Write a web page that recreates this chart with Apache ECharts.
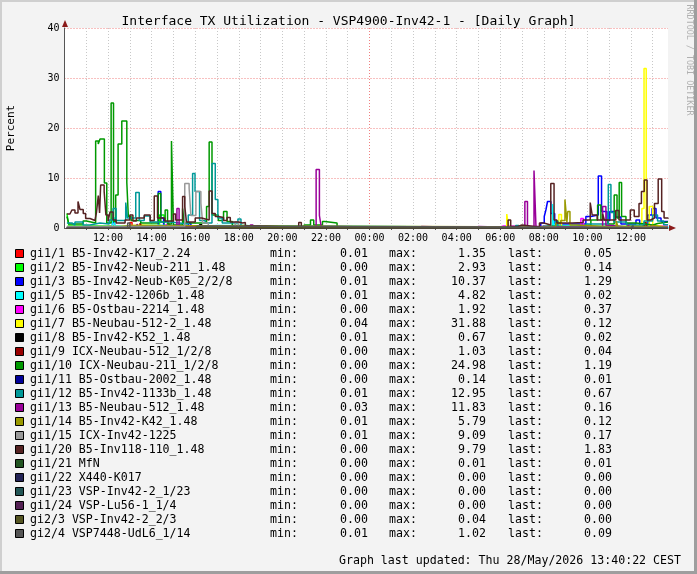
<!DOCTYPE html>
<html>
<head>
<meta charset="utf-8">
<script src="https://cdn.jsdelivr.net/npm/echarts@6/dist/echarts.min.js"></script>
<style>
html,body{margin:0;padding:0;background:#f3f3f3;}
#chart{width:697px;height:574px;}
</style>
</head>
<body>
<div id="chart"></div>
<script>
// time axis in hours, counted from 00:00 of the first day (24 = midnight)
var X_MIN = 10, X_MAX = 37.7;
var gridHours = [10,11,12,13,14,15,16,17,18,19,20,21,22,23,24,25,26,27,28,29,30,31,32,33,34,35,36,37];

// change points [hour, percent] per interface
var gi1_1 = [[10.11,0.1],[11.9,0.4],[12.0,0.1],[13.0,1.1],[13.1,0.2],[14.76,1.35],[14.85,0.1],[37.5,0.05],[37.7,0.05]];
var gi1_2 = [[10.11,2.9],[10.2,0.5],[10.5,0.2],[14.36,2.6],[14.57,0.3],[15.0,0.1],[37.7,0.14]];
var gi1_3 = [[10.11,0.2],[12.2,1.1],[12.3,0.3],[14.3,7.3],[14.42,2.0],[14.55,0.5],[15.7,1.0],[15.8,0.2],[18.0,0.05],[31.86,1.0],[32.02,2.3],[32.1,3.7],[32.17,5.3],[32.32,2.9],[32.5,0.8],[33.93,2.3],[34.16,2.6],[34.5,10.4],[34.65,3.3],[34.9,1.5],[35.03,3.3],[35.25,2.2],[35.54,0.8],[36.23,1.6],[36.4,0.5],[36.78,2.6],[36.97,3.9],[37.15,2.0],[37.38,1.3],[37.7,1.29]];
var gi1_5 = [[10.11,0.3],[12.2,2.0],[12.3,0.4],[13.0,0.6],[14.0,0.3],[16.0,0.5],[17.0,0.1],[32.4,4.8],[32.47,0.5],[33.0,0.2],[37.7,0.02]];
var gi1_6 = [[10.11,0.1],[14.67,0.8],[14.75,0.1],[29.93,0.4],[30.15,0.1],[33.7,1.9],[33.82,0.2],[36.8,0.5],[36.9,0.37],[37.7,0.37]];
var gi1_7 = [[10.11,0.3],[12.5,0.6],[13.5,0.4],[15.0,0.3],[18.0,0.1],[30.3,2.8],[30.39,0.2],[32.69,2.7],[32.81,0.3],[35.54,0.5],[36.5,3.9],[36.6,31.9],[36.7,0.3],[36.84,4.3],[37.0,0.5],[37.2,0.12],[37.7,0.12]];
var gi1_8 = [[10.11,0.05],[16.2,0.67],[16.3,0.05],[37.7,0.02]];
var gi1_9 = [[10.11,0.05],[13.47,1.0],[13.55,0.1],[36.6,1.03],[36.7,0.05],[37.7,0.04]];
var gi1_10 = [[10.11,2.3],[10.2,0.8],[10.85,1.4],[11.0,1.0],[11.43,17.4],[11.55,16.8],[11.63,17.8],[11.83,9.0],[11.94,1.0],[12.14,25.0],[12.25,1.3],[12.35,6.6],[12.46,16.8],[12.63,21.4],[12.86,9.1],[12.93,2.3],[13.06,1.5],[13.5,1.0],[14.3,6.9],[14.42,1.2],[14.62,3.6],[14.73,0.8],[14.91,17.4],[15.0,0.6],[15.42,3.9],[15.49,1.0],[16.52,4.3],[16.64,17.2],[16.77,2.6],[17.06,1.5],[17.3,3.3],[17.46,1.3],[17.7,0.5],[18.3,0.2],[19.07,0.4],[19.22,0.1],[21.0,0.6],[21.29,1.6],[21.44,0.6],[21.84,1.3],[21.95,1.0],[22.51,0.1],[23.0,0.05],[31.86,0.4],[32.2,0.2],[33.38,0.6],[34.16,1.6],[34.47,4.6],[34.62,1.6],[34.94,0.8],[35.23,6.6],[35.36,2.0],[35.46,9.1],[35.57,2.3],[35.77,1.0],[36.23,0.6],[37.01,0.9],[37.22,1.2],[37.7,1.19]];
var gi1_11 = [[10.11,0.05],[12.5,0.14],[12.6,0.02],[37.7,0.01]];
var gi1_12 = [[10.11,1.0],[10.34,0.6],[10.48,1.2],[10.85,0.6],[11.17,1.0],[11.63,0.8],[12.05,1.6],[12.23,3.9],[12.37,1.5],[12.81,5.1],[12.89,2.0],[13.27,7.1],[13.43,1.5],[13.66,2.4],[13.93,1.2],[14.85,0.8],[15.68,2.6],[15.88,10.9],[15.99,7.3],[16.2,1.5],[16.46,1.0],[16.77,12.9],[16.92,5.7],[17.04,2.0],[17.24,1.0],[17.96,1.8],[18.1,0.3],[18.9,0.05],[30.71,0.5],[30.85,0.05],[31.86,0.4],[32.0,0.1],[32.55,1.4],[32.65,0.3],[33.93,0.8],[34.96,8.7],[35.08,3.1],[35.22,1.2],[35.8,0.6],[36.6,1.4],[36.99,2.6],[37.22,1.4],[37.5,0.67],[37.7,0.67]];
var gi1_13 = [[10.11,0.1],[13.33,0.8],[13.4,0.1],[15.16,3.9],[15.26,0.3],[15.5,0.1],[18.53,0.6],[18.65,0.1],[21.55,11.7],[21.7,2.5],[21.78,0.3],[22.3,0.1],[26.3,0.3],[26.4,0.05],[28.9,0.3],[29.0,0.05],[31.13,5.3],[31.25,0.2],[31.55,11.5],[31.64,0.3],[32.0,0.1],[34.7,4.3],[34.85,0.5],[35.1,0.2],[35.8,0.6],[35.9,0.16],[37.7,0.16]];
var gi1_14 = [[10.11,0.2],[12.5,0.5],[13.0,0.2],[32.55,1.0],[32.78,1.5],[32.97,5.7],[33.06,1.2],[33.1,3.3],[33.2,0.6],[33.5,0.2],[35.32,1.4],[35.4,0.3],[36.9,0.5],[37.0,0.12],[37.7,0.12]];
var gi1_15 = [[10.11,0.3],[15.52,8.9],[15.72,8.0],[15.8,2.5],[16.03,7.3],[16.26,5.0],[16.34,1.0],[16.6,0.3],[17.84,1.2],[17.98,0.2],[18.5,0.1],[37.7,0.17]];
var gi1_20 = [[10.11,2.8],[10.25,3.1],[10.34,3.6],[10.48,3.0],[10.62,5.3],[10.71,3.7],[10.86,2.9],[10.97,1.9],[11.17,1.5],[11.4,1.6],[11.47,3.2],[11.55,6.5],[11.61,3.0],[11.66,8.6],[11.82,7.3],[11.9,2.6],[12.0,1.4],[12.09,3.2],[12.23,1.6],[12.37,1.0],[12.78,1.6],[13.0,2.6],[13.14,1.4],[13.3,2.0],[13.66,2.6],[13.93,1.5],[14.12,6.4],[14.27,2.0],[14.6,1.4],[15.0,2.8],[15.1,1.6],[15.42,6.3],[15.52,4.3],[15.6,1.2],[16.0,2.0],[16.3,1.6],[16.64,7.4],[16.77,2.9],[16.92,2.3],[17.06,2.1],[17.3,1.5],[17.46,2.1],[17.61,1.2],[18.0,1.0],[18.17,1.1],[18.3,0.4],[18.9,0.1],[20.75,1.1],[20.87,0.2],[21.3,0.1],[30.36,1.6],[30.48,0.3],[30.8,0.6],[31.0,0.2],[31.8,1.0],[32.0,0.6],[32.32,8.9],[32.47,1.6],[32.6,1.0],[33.3,1.1],[33.8,1.6],[34.13,5.1],[34.22,2.6],[34.45,1.6],[34.7,2.8],[34.78,1.6],[35.3,3.5],[35.45,1.6],[35.97,3.6],[36.15,2.3],[36.37,4.9],[36.48,7.3],[36.61,9.6],[36.74,1.6],[36.9,2.0],[37.08,4.9],[37.25,9.8],[37.41,3.3],[37.52,2.0],[37.7,1.83]];
var gi1_21 = [[10.11,0.01],[37.7,0.01]];
var gi1_22 = [[10.11,0],[37.7,0]];
var gi1_23 = [[10.11,0],[37.7,0]];
var gi1_24 = [[10.11,0],[37.7,0]];
var gi2_3 = [[10.11,0],[14.0,0.04],[14.1,0],[37.7,0]];
var gi2_4 = [[10.11,0.1],[12.9,1.02],[13.0,0.1],[16.0,0.4],[16.1,0.1],[36.0,0.5],[36.1,0.09],[37.7,0.09]];

var names = ['gi1/1 B5-Inv42-K17_2.24','gi1/2 B5-Inv42-Neub-211_1.48','gi1/3 B5-Inv42-Neub-K05_2/2/8','gi1/5 B5-Inv42-1206b_1.48','gi1/6 B5-Ostbau-2214_1.48','gi1/7 B5-Neubau-512-2_1.48','gi1/8 B5-Inv42-K52_1.48','gi1/9 ICX-Neubau-512_1/2/8','gi1/10 ICX-Neubau-211_1/2/8','gi1/11 B5-Ostbau-2002_1.48','gi1/12 B5-Inv42-1133b_1.48','gi1/13 B5-Neubau-512_1.48','gi1/14 B5-Inv42-K42_1.48','gi1/15 ICX-Inv42-1225','gi1/20 B5-Inv118-110_1.48','gi1/21 MfN','gi1/22 X440-K017','gi1/23 VSP-Inv42-2_1/23','gi1/24 VSP-Lu56-1_1/4','gi2/3 VSP-Inv42-2_2/3','gi2/4 VSP7448-UdL6_1/14'];
var mins = [0.01,0.00,0.01,0.01,0.00,0.04,0.01,0.00,0.00,0.00,0.01,0.03,0.01,0.01,0.00,0.00,0.00,0.00,0.00,0.00,0.01];
var maxs = [1.35,2.93,10.37,4.82,1.92,31.88,0.67,1.03,24.98,0.14,12.95,11.83,5.79,9.09,9.79,0.01,0.00,0.00,0.00,0.04,1.02];
var lasts = [0.05,0.14,1.29,0.02,0.37,0.12,0.02,0.04,1.19,0.01,0.67,0.16,0.12,0.17,1.83,0.01,0.00,0.00,0.00,0.00,0.09];
var colors = ['#FF0000','#00FF00','#0000FF','#00FFFF','#FF00FF','#FFFF00','#000000','#990000','#009900','#000099','#009999','#990099','#999900','#999999','#552222','#225522','#222255','#225555','#552255','#555522','#555555'];
var lines = [gi1_1,gi1_2,gi1_3,gi1_5,gi1_6,gi1_7,gi1_8,gi1_9,gi1_10,gi1_11,gi1_12,gi1_13,gi1_14,gi1_15,gi1_20,gi1_21,gi1_22,gi1_23,gi1_24,gi2_3,gi2_4];

var MONO = 'DejaVu Sans Mono';

function pad2(n){ return (n < 10 ? '0' : '') + n; }

// split line colours in tick order: hidden at the axis itself, red at midnight
var vColors = gridHours.map(function(h){
	if(h === X_MIN) return 'rgba(0,0,0,0)';
	return h === 24 ? '#F08080' : '#c8c8c8';
});
vColors.push('rgba(0,0,0,0)');

var series = lines.map(function(d, i){
	return {
		name: names[i],
		type: 'line',
		step: 'end',
		data: d,
		showSymbol: false,
		symbol: 'none',
		silent: true,
		lineStyle: {color: colors[i], width: 1.5},
		z: 3
	};
});

// legend rows as text table
var graphics = [];
var rowY0 = 254, rowStep = 14;
names.forEach(function(n, i){
	var y = rowY0 + i*rowStep;
	graphics.push({type:'rect', shape:{x:15.5, y:y-4.5, width:8, height:8}, style:{fill:colors[i], stroke:'#000', lineWidth:1}});
	var txt = function(x, s, align){
		graphics.push({type:'text', x:x, y:y, style:{text:s, fill:'#000', font:'11.6px "'+MONO+'"', textAlign:align, textVerticalAlign:'middle'}});
	};
	txt(30, n, 'left');
	txt(270, 'min:', 'left');
	txt(368, mins[i].toFixed(2), 'right');
	txt(389, 'max:', 'left');
	txt(486, maxs[i].toFixed(2), 'right');
	txt(508, 'last:', 'left');
	txt(612, lasts[i].toFixed(2), 'right');
});
graphics.push({type:'text', x:681, y:561, style:{text:'Graph last updated: Thu 28/May/2026 13:40:22 CEST', fill:'#000', font:'11.6px "'+MONO+'"', textAlign:'right', textVerticalAlign:'middle'}});
graphics.push({type:'text', x:689, y:60, rotation:-Math.PI/2, style:{text:'RRDTOOL / TOBI OETIKER', fill:'#b0b0b0', font:'8.4px "'+MONO+'"', textAlign:'center', textVerticalAlign:'middle'}});
graphics.push({type:'text', x:11, y:128, rotation:Math.PI/2, style:{text:'Percent', fill:'#000', font:'11px "'+MONO+'"', textAlign:'center', textVerticalAlign:'middle'}});
// frame shading
graphics.push({type:'rect', shape:{x:0, y:0, width:697, height:2}, style:{fill:'#cfcfcf'}, z:10});
graphics.push({type:'rect', shape:{x:0, y:0, width:2, height:574}, style:{fill:'#cfcfcf'}, z:10});
graphics.push({type:'rect', shape:{x:0, y:571, width:697, height:3}, style:{fill:'#9e9e9e'}, z:10});
graphics.push({type:'rect', shape:{x:694, y:0, width:3, height:574}, style:{fill:'#9e9e9e'}, z:10});
// axis arrows
graphics.push({type:'polygon', shape:{points:[[62,27],[68,27],[65,20]]}, style:{fill:'#8b1a1a'}, z:10});
graphics.push({type:'polygon', shape:{points:[[669,225],[669,231],[676,228]]}, style:{fill:'#8b1a1a'}, z:10});

var chart = echarts.init(document.getElementById('chart'), null, {renderer:'canvas'});
chart.setOption({
	animation: false,
	backgroundColor: '#f3f3f3',
	title: {
		text: 'Interface TX Utilization - VSP4900-Inv42-1 - [Daily Graph]',
		left: 'center',
		top: 10,
		textStyle: {fontFamily: MONO, fontSize: 13, fontWeight: 'normal', color: '#000'}
	},
	grid: {left: 64.5, right: 29, top: 28, bottom: 346, show: true, backgroundColor: '#fff', borderWidth: 0, outerBoundsMode: 'none', containLabel: false},
	xAxis: {
		type: 'value',
		min: X_MIN,
		max: X_MAX,
		interval: 1,
		axisLine: {show: true, lineStyle: {color: '#555', width: 1}},
		axisTick: {show: true, length: 2, lineStyle: {color: '#555'}},
		axisLabel: {
			color: '#000',
			fontFamily: MONO,
			fontSize: 10,
			margin: 5,
			showMinLabel: false,
			showMaxLabel: false,
			formatter: function(v){
				var h = Math.round(v);
				if(Math.abs(v - h) > 0.001 || h % 2 !== 0) return '';
				return pad2(h % 24) + ':00';
			}
		},
		splitLine: {show: true, lineStyle: {color: vColors, type: [1,2], width: 1}}
	},
	yAxis: {
		type: 'value',
		min: 0,
		max: 40,
		interval: 10,
		axisLine: {show: true, lineStyle: {color: '#555', width: 1}},
		axisTick: {show: false},
		axisLabel: {color: '#000', fontFamily: MONO, fontSize: 10, margin: 5},
		splitLine: {show: true, lineStyle: {color: '#F08080', type: [1,2], width: 1}}
	},
	series: series,
	graphic: graphics
});
</script>
</body>
</html>
